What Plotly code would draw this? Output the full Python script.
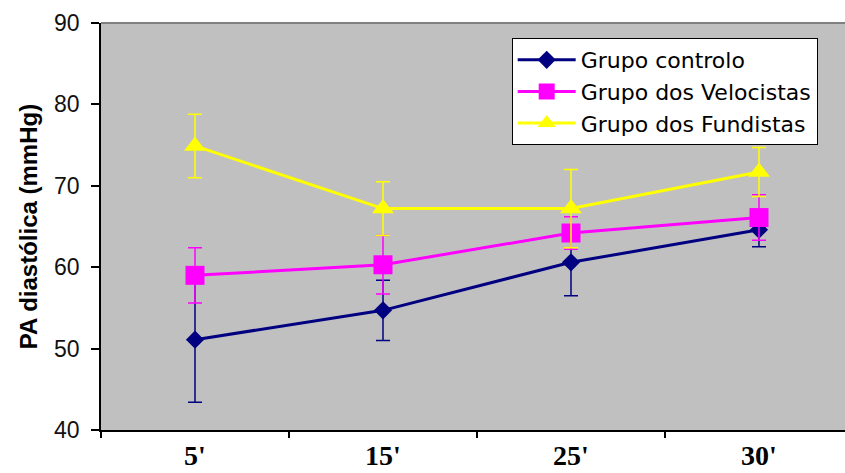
import plotly.graph_objects as go

# Time points after exercise
categories = ["5'", "15'", "25'", "30'"]

# Diastolic blood pressure (mmHg): means and standard deviations per group
controlo = [51.1, 54.7, 60.6, 64.6]
controlo_sd = [7.7, 3.7, 4.1, 2.1]

velocistas = [59.0, 60.3, 64.2, 66.1]
velocistas_sd = [3.4, 3.6, 2.0, 2.8]

fundistas = [74.9, 67.2, 67.2, 71.7]
fundistas_sd = [3.9, 3.3, 4.8, 3.0]

series = [
    ("Grupo controlo", controlo, controlo_sd, "#000080", "diamond", 14),
    ("Grupo dos Velocistas", velocistas, velocistas_sd, "#FF00FF", "square", 19),
    ("Grupo dos Fundistas", fundistas, fundistas_sd, "#FFFF00", "triangle-up", 19),
]

fig = go.Figure()
for name, vals, sd, color, symbol, size in series:
    fig.add_trace(go.Scatter(
        x=categories,
        y=vals,
        name=name,
        mode="lines+markers",
        line=dict(color=color, width=3),
        marker=dict(symbol=symbol, size=size, color=color, line=dict(width=0)),
        error_y=dict(type="data", array=sd, visible=True,
                     color=color, thickness=1.5, width=7),
    ))

fig.update_layout(
    width=845,
    height=473,
    margin=dict(l=101, r=0, t=23, b=43),
    paper_bgcolor="white",
    plot_bgcolor="#C0C0C0",
    showlegend=True,
    legend=dict(
        x=0.552, y=0.963, xanchor="left", yanchor="top",
        bgcolor="white", bordercolor="black", borderwidth=1,
        font=dict(family="DejaVu Sans", size=22, color="black"),
        tracegroupgap=0, itemwidth=58,
    ),
    xaxis=dict(
        type="category",
        range=[-0.5, 3.5 - 8 / 188],
        showgrid=False,
        zeroline=False,
        showline=True, linecolor="black", linewidth=1.5,
        ticks="outside", tickson="boundaries", ticklen=6,
        tickcolor="black", tickwidth=1.5,
        tickfont=dict(family="Liberation Serif", size=28, color="black",
                      weight="bold"),
    ),
    yaxis=dict(
        range=[40, 90],
        dtick=10,
        showgrid=False,
        zeroline=False,
        showline=True, linecolor="black", linewidth=1.5,
        ticks="outside", ticklen=8, tickcolor="black", tickwidth=1.5,
        ticklabelstandoff=7,
        tickfont=dict(family="Liberation Sans", size=23, color="#111111"),
        title=dict(text="<b>PA diastólica (mmHg)</b>",
                   font=dict(family="Liberation Sans", size=24, color="black"),
                   standoff=10),
    ),
    shapes=[dict(type="line", xref="paper", yref="paper",
                 x0=0, x1=1, y0=1, y1=1,
                 line=dict(color="#808080", width=2))],
)

fig.write_html("out.html")
